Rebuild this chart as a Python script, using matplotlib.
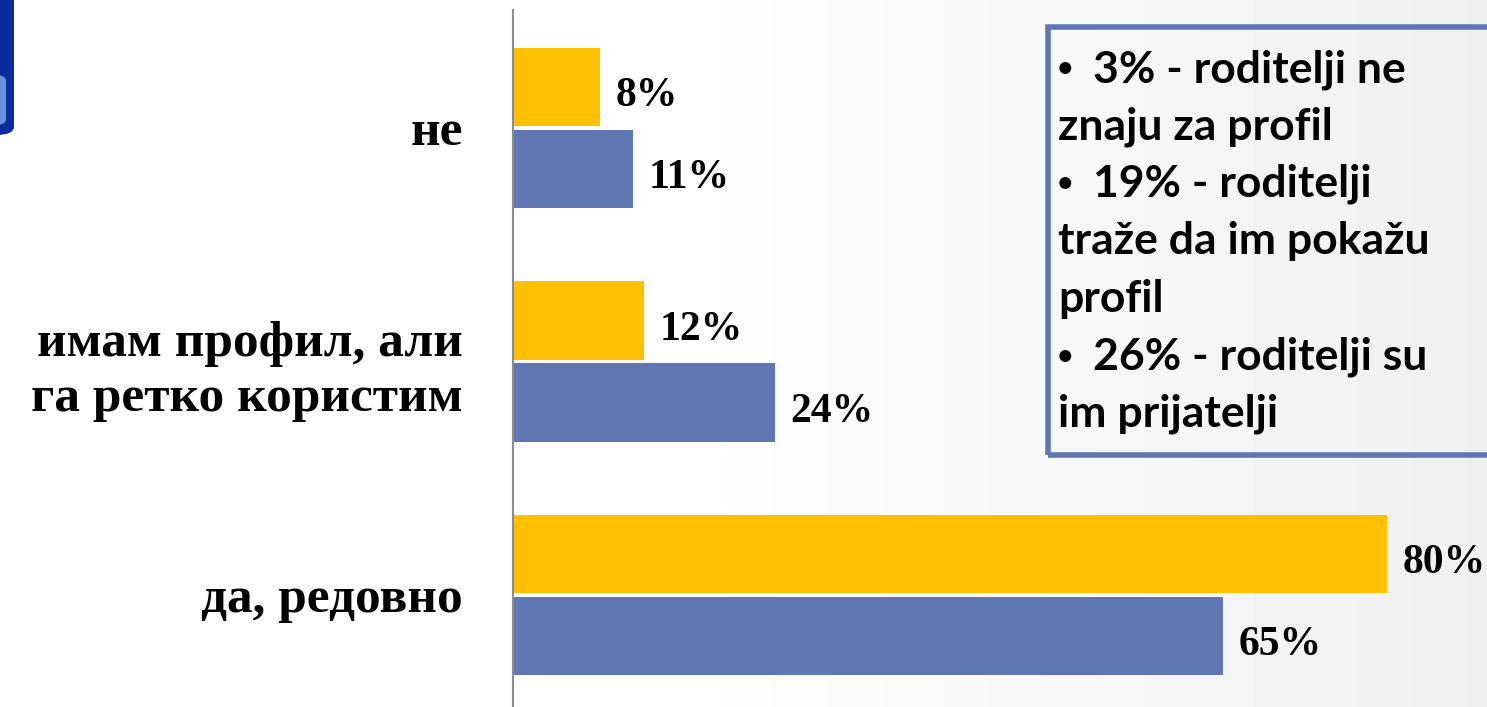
import matplotlib.pyplot as plt
import numpy as np
from matplotlib.patches import Rectangle, FancyBboxPatch

categories = ["да, редовно", "имам профил, али\nга ретко користим", "не"]
yellow_vals = [80, 12, 8]
blue_vals = [65, 24, 11]
box_lines = [
    (True, "3% - roditelji ne"),
    (False, "znaju za profil"),
    (True, "19% - roditelji"),
    (False, "traže da im pokažu"),
    (False, "profil"),
    (True, "26% - roditelji su"),
    (False, "im prijatelji"),
]

YELLOW = "#FFC000"
BLUE = "#5F76B3"

W, H = 1487, 707
fig = plt.figure(figsize=(W / 100, H / 100), dpi=100)

# soft background gradient (white on the left, light gray to the right)
bg = fig.add_axes([0, 0, 1, 1], zorder=-10)
gx = np.linspace(0, 1, 300)
grad = np.clip((gx - 0.45) / 0.55, 0, 1) * 0.06
img = 1 - np.tile(grad, (50, 1))
bg.imshow(img, cmap="gray", vmin=0, vmax=1, aspect="auto", extent=[0, 1, 0, 1])
bg.set_axis_off()

# slide decoration at top-left
fig.add_artist(FancyBboxPatch((-40 / W, 1 - 135 / H), 54 / W, 160 / H,
                              boxstyle="round,pad=0,rounding_size=0.012",
                              transform=fig.transFigure, facecolor="#0B2C9C",
                              edgecolor="none", clip_on=False))
fig.add_artist(FancyBboxPatch((-30 / W, 1 - 125 / H), 36 / W, 50 / H,
                              boxstyle="round,pad=0,rounding_size=0.008",
                              transform=fig.transFigure, facecolor="#6C92DE",
                              edgecolor="none", clip_on=False))

ax = fig.add_axes([513 / W, 0, 1 - 513 / W, 1 - 10 / H])
ax.patch.set_alpha(0)

y = np.arange(len(categories))
h = 0.335
gap = 0.008
ax.barh(y + h / 2 + gap, yellow_vals, height=h, color=YELLOW)
ax.barh(y - h / 2 - gap, blue_vals, height=h, color=BLUE)

for yi, v in zip(y, yellow_vals):
    ax.text(v + 1.4, yi + h / 2 + gap - 0.04, f"{v}%", va="center", ha="left",
            fontsize=30, fontweight="bold", family="Liberation Serif")
for yi, v in zip(y, blue_vals):
    ax.text(v + 1.4, yi - h / 2 - gap - 0.04, f"{v}%", va="center", ha="left",
            fontsize=30, fontweight="bold", family="Liberation Serif")

ax.set_xlim(0, (W - 513) / 10.93)
ax.set_ylim(-0.48, 2.505)
ax.set_yticks(y)
ax.set_yticklabels(categories, fontsize=37, fontweight="bold",
                   family="Liberation Serif", linespacing=1.25)
ax.tick_params(axis="y", length=0, pad=36)
ax.set_xticks([])
for s in ["top", "right", "bottom"]:
    ax.spines[s].set_visible(False)
ax.spines["left"].set_color("#8C8C8C")
ax.spines["left"].set_linewidth(1.5)

# text box on the right
fig.add_artist(Rectangle((1048 / W, 1 - 455 / H), 460 / W, 428 / H,
                         transform=fig.transFigure, facecolor="none",
                         edgecolor=BLUE, linewidth=4, clip_on=False))
for i, (bullet, line) in enumerate(box_lines):
    base = 1 - (82 + 57.5 * i) / H
    if bullet:
        fig.text(1058 / W, base, "•", ha="left", va="baseline",
                 fontsize=30, fontweight="bold", family="Liberation Sans")
        fig.text(1093 / W, base, line, ha="left", va="baseline",
                 fontsize=32, fontweight="bold", family="Lato")
    else:
        fig.text(1058 / W, base, line, ha="left", va="baseline",
                 fontsize=32, fontweight="bold", family="Lato")

fig.savefig("out.png", dpi=100)
